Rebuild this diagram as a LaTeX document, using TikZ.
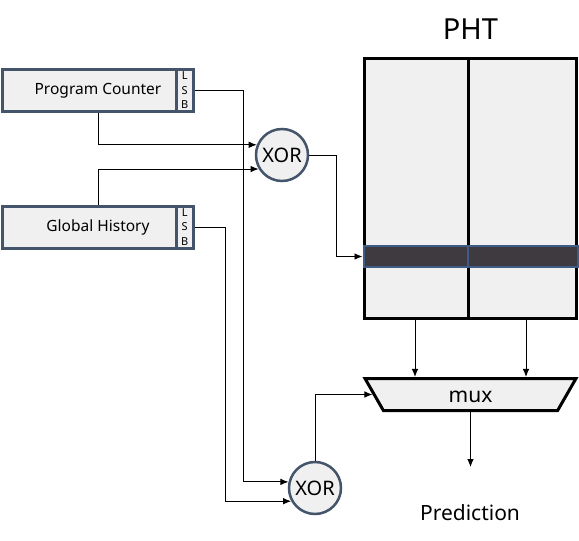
\documentclass[tikz,border=0pt]{standalone}
\usepackage{fontspec}
\setmainfont{Noto Sans}
\usetikzlibrary{arrows.meta}
\usetikzlibrary{shapes.geometric}
\definecolor{regline}{HTML}{44546A}
\definecolor{regfill}{HTML}{F0F0F0}
\definecolor{rowfill}{HTML}{3F3A40}
\definecolor{rowline}{HTML}{3E5C85}

\begin{document}
\begin{tikzpicture}[x=1pt,y=-1pt,>={Latex[length=8pt,width=6.5pt]},line width=0.9pt,
  reg/.style={draw=regline,fill=regfill,line width=3pt,minimum height=42pt,
    inner sep=0pt,font=\fontsize{15.5}{18}\selectfont},
  lsb/.style={reg,minimum width=17.5pt,align=center,font=\fontsize{11}{14.5}\selectfont},
  gate/.style={circle,draw=regline,fill=regfill,line width=2.5pt,minimum size=52pt,
    inner sep=0pt,font=\fontsize{20}{24}\selectfont},
  cell/.style={draw=rowline,fill=rowfill,line width=2pt,minimum height=21pt,inner sep=0pt}]
  \useasboundingbox (0,0) rectangle (579,541);

  % registers
  \node[reg,minimum width=191pt] (pc) at (98,90.5) {Program Counter};
  \node[lsb] (pclsb) at (184.75,90.5) {L\\S\\B};
  \node[reg,minimum width=191pt] (gh) at (98,227) {Global History};
  \node[lsb] (ghlsb) at (184.75,227) {L\\S\\B};

  % xor gates
  \node[gate] (xora) at (282,155) {XOR};
  \node[gate] (xorb) at (315,488) {XOR};

  % pattern history table
  \node[font=\fontsize{29}{34}\selectfont] (phtlabel) at (470.5,29) {PHT};
  \node[draw,line width=3pt,fill=regfill,minimum width=212pt,minimum height=260pt,
    inner sep=0pt] (pht) at (470.5,188.5) {};
  \draw[line width=3pt] ([xshift=-2.5pt]pht.north) -- ([xshift=-2.5pt]pht.south);
  \node[cell,minimum width=104.5pt] (rowa) at (415.75,256.5) {};
  \node[cell,minimum width=109.5pt] (rowb) at (522.75,256.5) {};

  % mux and output
  \node[trapezium,shape border rotate=180,trapezium angle=75,trapezium stretches=true,
    draw,line width=3pt,fill=regfill,minimum width=212pt,minimum height=32pt,
    inner sep=0pt,text height=17pt,font=\fontsize{21}{25}\selectfont] (mux) at (470.5,394.5) {mux};
  \node[font=\fontsize{21}{25}\selectfont] (pred) at (470,513) {Prediction};
  \coordinate (out) at (470.5,467);

  \draw[->] (pc.south) |- (xora.158);
  \draw[->] (gh.north) |- (xora.211);
  \draw[->] (pclsb.east) -- ++(48.5,0) |- (xorb.167);
  \draw[->] (ghlsb.east) -- ++(30.5,0) |- (xorb.209);

  \draw[->] (xora.east) -- ++(27,0) |- (rowa.west);

  \draw[->] ([xshift=-55.5pt]pht.south) -- ([xshift=-55.5pt]mux.90);
  \draw[->] ([xshift=55.5pt]pht.south) -- ([xshift=55.5pt]mux.90);
  \draw[->] (xorb.north) |- (mux.180);
  \draw[->] (mux.270) -- (out);
\end{tikzpicture}
\end{document}
